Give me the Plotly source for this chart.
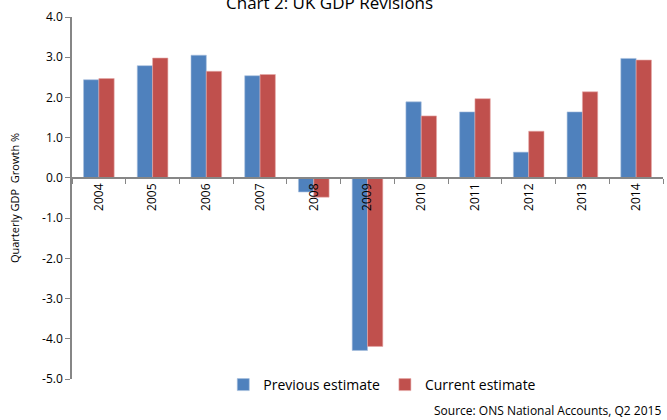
import plotly.graph_objects as go

years = ["2004", "2005", "2006", "2007", "2008", "2009", "2010", "2011", "2012", "2013", "2014"]
previous = [2.44, 2.79, 3.05, 2.54, -0.35, -4.29, 1.89, 1.64, 0.64, 1.64, 2.97]
current = [2.47, 2.98, 2.65, 2.57, -0.48, -4.19, 1.54, 1.97, 1.16, 2.14, 2.93]
y_ticks = [4, 3, 2, 1, 0, -1, -2, -3, -4, -5]

BLUE = "#4F81BD"
RED = "#C0504D"
FONT = "Open Sans"
GRID = "#868686"

fig = go.Figure()
fig.add_trace(go.Bar(x=years, y=previous, name="Previous estimate",
                     marker=dict(color=BLUE, line=dict(color="#A7C0DE", width=0.6))))
fig.add_trace(go.Bar(x=years, y=current, name="Current estimate",
                     marker=dict(color=RED, line=dict(color="#E6A9A8", width=0.6))))

ymin, ymax = -5, 4
fig.update_layout(
    width=667, height=420,
    margin=dict(l=72, r=4, t=17, b=41),
    paper_bgcolor="white", plot_bgcolor="white",
    barmode="group", bargap=0.43, bargroupgap=0,
    font=dict(family=FONT, color="#000000"),
    showlegend=True,
    legend=dict(orientation="h", x=0.525, xanchor="center", y=-6 / 362, yanchor="middle",
                font=dict(size=14, family=FONT), bgcolor="rgba(0,0,0,0)",
                itemwidth=30, tracegroupgap=0),
    xaxis=dict(type="category", anchor="free", position=(0 - ymin) / (ymax - ymin),
               showline=True, linecolor=GRID, linewidth=1.5,
               ticks="outside", tickson="boundaries", ticklen=5, tickcolor=GRID,
               tickangle=-90, tickfont=dict(size=12, family=FONT),
               showgrid=False, zeroline=False),
    yaxis=dict(range=[ymin, ymax], tickmode="array", tickvals=y_ticks,
               ticktext=[f"{v:.1f}" for v in y_ticks],
               showline=True, linecolor=GRID, linewidth=1.5,
               ticks="outside", ticklen=5, tickcolor=GRID,
               tickfont=dict(size=12, family=FONT),
               showgrid=False, zeroline=False,
               title=dict(text="Quarterly GDP  Growth %", font=dict(size=11, family=FONT), standoff=20)),
    annotations=[
        dict(text="Chart 2: UK GDP Revisions", xref="paper", yref="paper",
             x=0.435, y=1 + 14 / 362, xanchor="center", yanchor="middle",
             showarrow=False, font=dict(size=17, family=FONT)),
        dict(text="Source: ONS National Accounts, Q2 2015", xref="paper", yref="paper",
             x=1.0, y=-31 / 362, xanchor="right", yanchor="middle",
             showarrow=False, font=dict(size=12, family=FONT)),
    ],
)

fig.write_html("out.html")
